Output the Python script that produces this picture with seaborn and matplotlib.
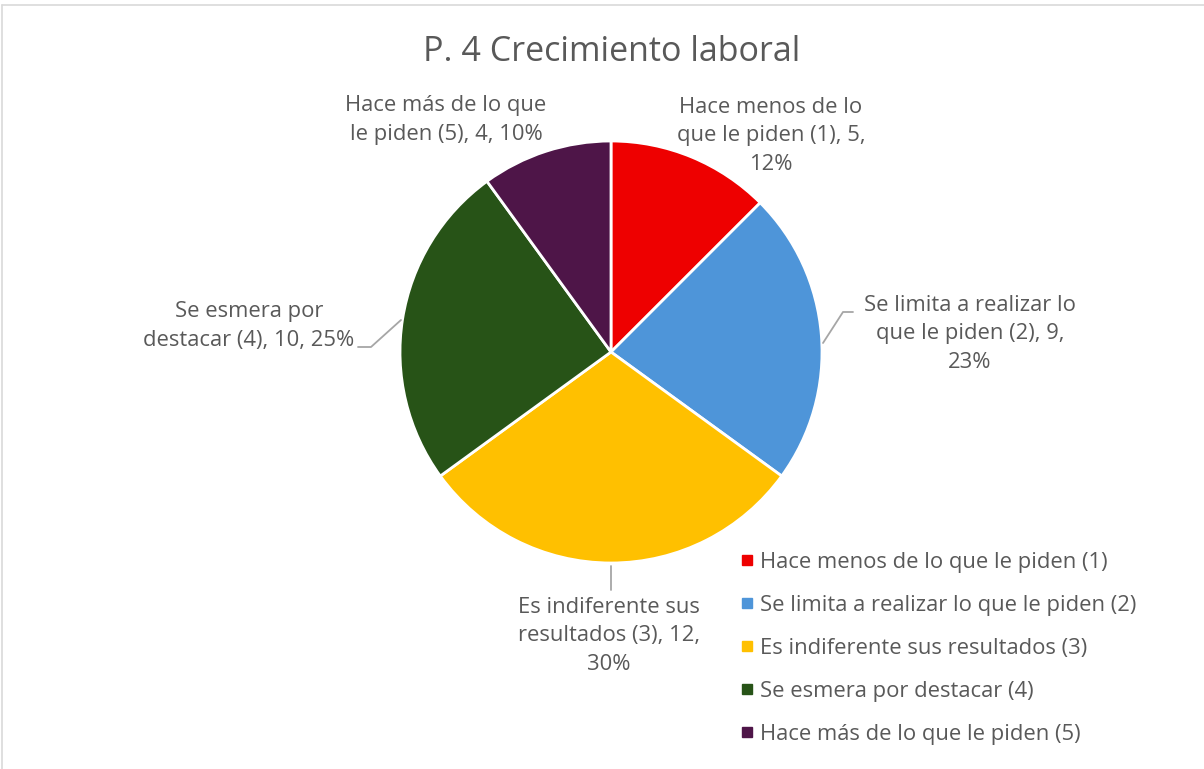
import matplotlib
matplotlib.use("Agg")
import matplotlib.pyplot as plt
from matplotlib.lines import Line2D
import seaborn as sns

categories = [
    "Hace menos de lo que le piden (1)",
    "Se limita a realizar lo que le piden (2)",
    "Es indiferente sus resultados (3)",
    "Se esmera por destacar (4)",
    "Hace más de lo que le piden (5)",
]
counts = [5, 9, 12, 10, 4]
percents = ["12%", "23%", "30%", "25%", "10%"]
slice_labels = [
    "Hace menos de lo\nque le piden (1), 5,\n12%",
    "Se limita a realizar lo\nque le piden (2), 9,\n23%",
    "Es indiferente sus\nresultados (3), 12,\n30%",
    "Se esmera por\ndestacar (4), 10, 25%",
    "Hace más de lo que\nle piden (5), 4, 10%",
]
colors = ["#EE0000", "#4E95D9", "#FFC000", "#275317", "#4E1548"]

sns.set_theme(style="white")
plt.rcParams["font.family"] = ["Open Sans", "DejaVu Sans"]
text_color = "#595959"

W, H = 1204, 769
fig = plt.figure(figsize=(W / 100, H / 100), dpi=100)
ax = fig.add_axes([0, 0, 1, 1])

cx, cy, r = 611, H - 352, 211
ax.pie(
    counts,
    colors=sns.color_palette(colors),
    startangle=90,
    counterclock=False,
    center=(cx, cy),
    radius=r,
    frame=True,
    wedgeprops=dict(edgecolor="white", linewidth=2),
)
ax.set_xlim(0, W)
ax.set_ylim(0, H)
ax.set_aspect("auto")
ax.axis("off")

fs = 15.8
# label positions (pixel coords, y from top)
label_pos = [(771, 136), (970, 334), (609, 636), (249, 326), (446, 120)]
for txt, (lx, ly) in zip(slice_labels, label_pos):
    ax.text(lx, H - ly, txt, ha="center", va="center", fontsize=fs,
            color=text_color, linespacing=1.45)

# leader lines
lc = "#A6A6A6"
ax.plot([823, 843, 853], [H - 343, H - 312, H - 312], color=lc, lw=1.3)
ax.plot([611, 611], [H - 566, H - 590], color=lc, lw=1.3)
ax.plot([401, 371, 358], [H - 320, H - 347, H - 347], color=lc, lw=1.3)

ax.text(W / 2 + 10, H - 52, "P. 4 Crecimiento laboral", ha="center", va="center",
        fontsize=24.5, color=text_color)

handles = [Line2D([0], [0], marker="s", linestyle="", markersize=7,
                  markerfacecolor=c, markeredgecolor=c) for c in colors]
leg = ax.legend(handles, categories, loc="upper left",
                bbox_to_anchor=(731 / W, 1 - 541 / H), frameon=False,
                fontsize=fs, labelspacing=1.0, handlelength=0.5,
                handletextpad=0.3, borderpad=0)
for t in leg.get_texts():
    t.set_color(text_color)

# chart border
fig.add_artist(Line2D([2 / W, 2 / W], [0, 1 - 5 / H], color="#D9D9D9", lw=1.2,
                      transform=fig.transFigure))
fig.add_artist(Line2D([2 / W, 1], [1 - 5 / H, 1 - 5 / H], color="#D9D9D9", lw=1.2,
                      transform=fig.transFigure))

fig.savefig("out.png", dpi=100, facecolor="white")
